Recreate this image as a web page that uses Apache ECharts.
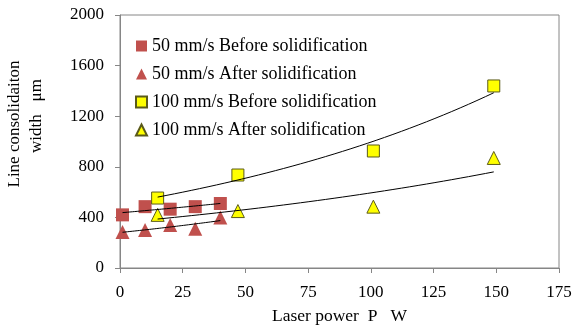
<!DOCTYPE html>
<html>
<head>
<meta charset="utf-8">
<script src="https://cdn.jsdelivr.net/npm/echarts@6/dist/echarts.min.js"></script>
<style>
  html, body { margin: 0; padding: 0; background: #fff; }
  #chart { width: 574px; height: 329px; }
</style>
</head>
<body>
<div id="chart"></div>
<script>
// 数据
var names = [
  '50 mm/s Before solidification',
  '50 mm/s After solidification',
  '100 mm/s Before solidification',
  '100 mm/s After solidification'
]
var power50 = [1, 10, 20, 30, 40]
var before50 = [420, 485, 465, 485, 510]
var after50 = [285, 300, 340, 310, 400]
var power100 = [15, 47, 101, 149]
var before100 = [553, 735, 925, 1439]
var after100 = [420, 450, 485, 870]
var xTicks = [0, 25, 50, 75, 100, 125, 150, 175]
var yTicks = [0, 400, 800, 1200, 1600, 2000]

// 指数趋势线 (Excel 风格 y = a*e^(bx))
function expTrend(xs, ys) {
  var n = xs.length
  var mx = 0, ml = 0
  for (var i = 0; i < n; i++) {
    mx += xs[i] / n
    ml += Math.log(ys[i]) / n
  }
  var sxx = 0, sxy = 0
  for (var j = 0; j < n; j++) {
    sxx += (xs[j] - mx) * (xs[j] - mx)
    sxy += (xs[j] - mx) * (Math.log(ys[j]) - ml)
  }
  var b = sxy / sxx
  var a = ml - b * mx
  var x0 = Math.min.apply(null, xs)
  var x1 = Math.max.apply(null, xs)
  var pts = []
  for (var k = 0; k <= 40; k++) {
    var x = x0 + (x1 - x0) * k / 40
    pts.push([x, Math.exp(a + b * x)])
  }
  return pts
}

function pairs(xs, ys) {
  return xs.map(function (x, i) { return [x, ys[i]] })
}

var red = '#C0504D'
var yellow = '#FFFF00'
var edge = '#5a5a1a'
var font = 'Liberation Serif, Times New Roman, serif'

function trend(xs, ys) {
  return {
    type: 'line',
    data: expTrend(xs, ys),
    showSymbol: false,
    smooth: false,
    silent: true,
    z: 5,
    lineStyle: { color: '#000', width: 1 }
  }
}

var myChart = echarts.init(document.getElementById('chart'))
var option = {
  animation: false,
  textStyle: { fontFamily: font },
  grid: {
    left: 120,
    right: 15,
    top: 15,
    bottom: 61,
    containLabel: false,
    outerBoundsMode: 'none',
    show: true,
    borderColor: '#868686',
    borderWidth: 1
  },
  legend: {
    orient: 'vertical',
    left: 130,
    top: 31,
    itemGap: 8,
    itemWidth: 11,
    itemHeight: 11,
    data: names,
    textStyle: { fontFamily: font, fontSize: 18, lineHeight: 20, color: '#000' }
  },
  xAxis: {
    type: 'value',
    min: 0,
    max: 175,
    interval: 25,
    name: 'Laser power  P   W',
    nameLocation: 'middle',
    nameGap: 39,
    nameTextStyle: { fontFamily: font, fontSize: 17.5, color: '#000' },
    axisLine: { lineStyle: { color: '#868686' } },
    axisTick: { show: true, length: 5, lineStyle: { color: '#868686' } },
    axisLabel: { fontFamily: font, fontSize: 17, color: '#000', margin: 16 },
    splitLine: { show: false }
  },
  yAxis: {
    type: 'value',
    min: 0,
    max: 2000,
    interval: 400,
    axisLine: { show: true, lineStyle: { color: '#868686' } },
    axisTick: { show: true, length: 5, lineStyle: { color: '#868686' } },
    axisLabel: {
      fontFamily: font,
      fontSize: 17,
      color: '#000',
      margin: 16,
      formatter: function (v) { return String(v) }
    },
    splitLine: { show: false }
  },
  graphic: [
    {
      type: 'text',
      x: 15,
      y: 124,
      rotation: Math.PI / 2,
      style: {
        text: 'Line consolidaiton',
        font: '17px ' + font,
        fill: '#000',
        align: 'center',
        verticalAlign: 'middle'
      }
    },
    {
      type: 'text',
      x: 37,
      y: 116,
      rotation: Math.PI / 2,
      style: {
        text: 'width   μm',
        font: '17px ' + font,
        fill: '#000',
        align: 'center',
        verticalAlign: 'middle'
      }
    }
  ],
  series: [
    {
      name: names[0],
      type: 'scatter',
      symbol: 'rect',
      symbolSize: 13,
      z: 3,
      itemStyle: { color: red, opacity: 1 },
      data: pairs(power50, before50)
    },
    {
      name: names[1],
      type: 'scatter',
      symbol: 'triangle',
      symbolSize: 14,
      z: 3,
      itemStyle: { color: red, opacity: 1 },
      data: pairs(power50, after50)
    },
    {
      name: names[2],
      type: 'scatter',
      symbol: 'rect',
      symbolSize: 12,
      z: 3,
      itemStyle: { color: yellow, borderColor: edge, borderWidth: 1, opacity: 1 },
      data: pairs(power100, before100)
    },
    {
      name: names[3],
      type: 'scatter',
      symbol: 'triangle',
      symbolSize: 13,
      z: 3,
      itemStyle: { color: yellow, borderColor: edge, borderWidth: 1, opacity: 1 },
      data: pairs(power100, after100)
    },
    trend(power50, before50),
    trend(power50, after50),
    trend(power100, before100),
    trend(power100, after100)
  ]
}
myChart.setOption(option)
</script>
</body>
</html>
